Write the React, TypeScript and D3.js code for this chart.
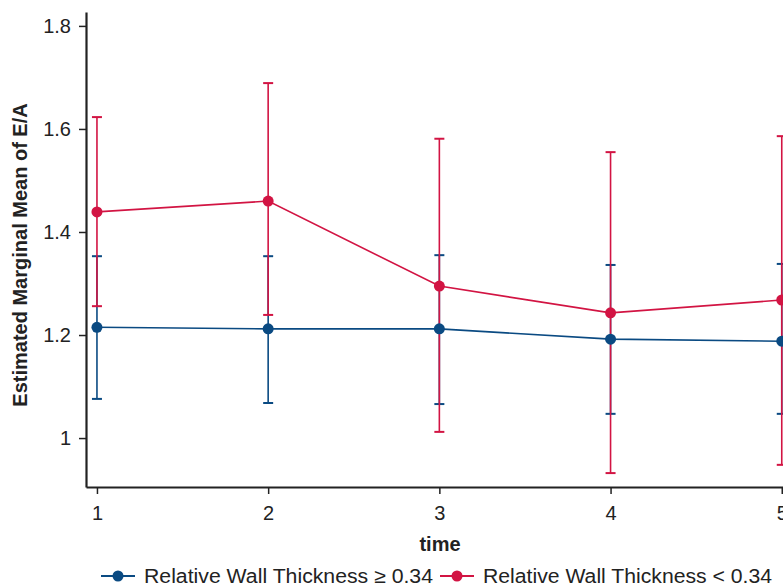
import React, { useEffect, useRef } from 'react';
import * as d3 from 'd3';

// estimated marginal means of E/A with 95% CI, by time point
const times = [1, 2, 3, 4, 5];
const thickMean = [1.215, 1.212, 1.212, 1.192, 1.188];
const thickLower = [1.076, 1.068, 1.066, 1.047, 1.047];
const thickUpper = [1.353, 1.353, 1.355, 1.336, 1.338];
const thinMean = [1.439, 1.46, 1.295, 1.243, 1.268];
const thinLower = [1.256, 1.239, 1.012, 0.932, 0.948];
const thinUpper = [1.623, 1.689, 1.581, 1.555, 1.586];
const yTicks = [1, 1.2, 1.4, 1.6, 1.8];
const seriesNames = ['Relative Wall Thickness \u2265 0.34', 'Relative Wall Thickness < 0.34'];

const BLUE = '#0a4a82';
const RED = '#d21443';
const FONT = '"Liberation Sans", Arial, Helvetica, sans-serif';

export default function App() {
  const ref = useRef<SVGSVGElement>(null);

  useEffect(() => {
    const totalWidth = 783;
    const totalHeight = 586;
    const svg = d3.select(ref.current);
    svg.selectAll('*').remove();
    svg.attr('width', totalWidth).attr('height', totalHeight);

    const xScale = d3.scaleLinear().domain([0.936, 5.2]).range([86, 816]);
    const yScale = d3.scaleLinear().domain([0.905, 1.827]).range([487, 12]);

    // y axis
    const yAxis = svg.append('g')
      .attr('transform', `translate(${xScale(0.936)},0)`)
      .call(d3.axisLeft(yScale).tickValues(yTicks).tickSize(7).tickSizeOuter(0).tickPadding(8)
        .tickFormat(d => String(+(+d).toFixed(1))));
    yAxis.select('.domain').attr('stroke', '#222').attr('stroke-width', 2.2);
    yAxis.selectAll('.tick line').attr('stroke', '#222').attr('stroke-width', 1.5);
    yAxis.selectAll('.tick text').style('font-family', FONT).style('font-size', '20px').attr('fill', '#222');

    // x axis
    const xAxis = svg.append('g')
      .attr('transform', `translate(0,${yScale(0.905)})`)
      .call(d3.axisBottom(xScale).tickValues(times).tickSize(7).tickSizeOuter(0).tickPadding(12)
        .tickFormat(d3.format('d')));
    xAxis.select('.domain').attr('stroke', '#222').attr('stroke-width', 2.2);
    xAxis.selectAll('.tick line').attr('stroke', '#222').attr('stroke-width', 1.5);
    xAxis.selectAll('.tick text').style('font-family', FONT).style('font-size', '20px').attr('fill', '#222');

    // axis titles
    svg.append('text')
      .attr('x', 440)
      .attr('y', 551)
      .attr('text-anchor', 'middle')
      .text('time')
      .style('font-family', FONT)
      .style('font-weight', 'bold')
      .style('font-size', '20px')
      .attr('fill', '#222');

    svg.append('text')
      .attr('transform', 'rotate(-90)')
      .attr('x', -255)
      .attr('y', 27)
      .attr('text-anchor', 'middle')
      .text('Estimated Marginal Mean of E/A')
      .style('font-family', FONT)
      .style('font-weight', 'bold')
      .style('font-size', '20px')
      .attr('fill', '#222');

    const series = [
      { color: BLUE, mean: thickMean, lower: thickLower, upper: thickUpper },
      { color: RED, mean: thinMean, lower: thinLower, upper: thinUpper },
    ];

    // error bars first
    series.forEach(s => {
      const g = svg.append('g').attr('stroke', s.color).attr('stroke-width', 1.6).attr('fill', 'none');
      times.forEach((t, i) => {
        const x = xScale(t);
        g.append('line').attr('x1', x).attr('x2', x).attr('y1', yScale(s.lower[i])).attr('y2', yScale(s.upper[i]));
        g.append('line').attr('x1', x - 5).attr('x2', x + 5).attr('y1', yScale(s.lower[i])).attr('y2', yScale(s.lower[i])).attr('stroke-width', 2);
        g.append('line').attr('x1', x - 5).attr('x2', x + 5).attr('y1', yScale(s.upper[i])).attr('y2', yScale(s.upper[i])).attr('stroke-width', 2);
      });
    });

    // mean lines and points
    series.forEach(s => {
      const line = d3.line<number>().x((d, i) => xScale(times[i])).y(d => yScale(d));
      svg.append('path')
        .datum(s.mean)
        .attr('d', line)
        .attr('fill', 'none')
        .attr('stroke', s.color)
        .attr('stroke-width', 1.6);
      svg.append('g').selectAll('circle')
        .data(s.mean)
        .enter().append('circle')
        .attr('cx', (d, i) => xScale(times[i]))
        .attr('cy', d => yScale(d))
        .attr('r', 5.5)
        .attr('fill', s.color);
    });

    // legend
    const legendY = 576;
    const legendX = [101, 440];
    seriesNames.forEach((name, i) => {
      const color = i === 0 ? BLUE : RED;
      const lx = legendX[i];
      svg.append('line').attr('x1', lx).attr('x2', lx + 34).attr('y1', legendY).attr('y2', legendY)
        .attr('stroke', color).attr('stroke-width', 2);
      svg.append('circle').attr('cx', lx + 17).attr('cy', legendY).attr('r', 5.5).attr('fill', color);
      svg.append('text')
        .attr('x', lx + 43)
        .attr('y', legendY + 7)
        .text(name)
        .attr('textLength', 289)
        .attr('lengthAdjust', 'spacingAndGlyphs')
        .style('font-family', FONT)
        .style('font-size', '20px')
        .attr('fill', '#222');
    });
  }, []);

  return (
    <div style={{ position: 'absolute', left: 0, top: 0 }}>
      <svg ref={ref} style={{ display: 'block' }} />
    </div>
  );
}
